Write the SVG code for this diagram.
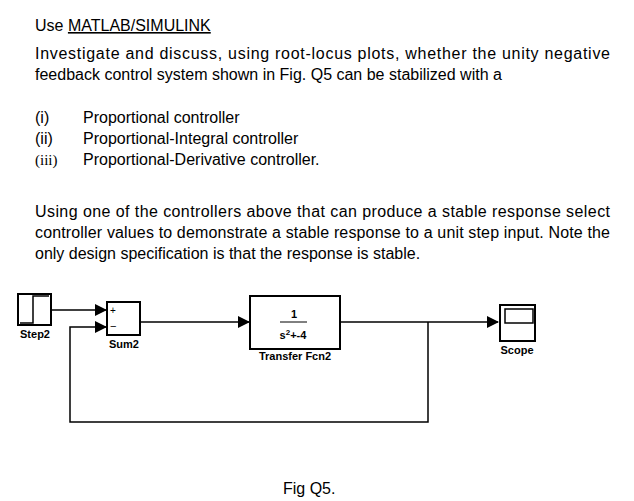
<svg xmlns="http://www.w3.org/2000/svg" width="634" height="501" viewBox="0 0 634 501">
<style>
text{font-family:"Liberation Sans",Arial,sans-serif;fill:#000}
.t{font-size:16px}
.s{font-size:11px;font-weight:bold}
.b{fill:#fff;stroke:#000;stroke-width:2}
.c{fill:none;stroke:#000;stroke-width:1.5}
</style>
<defs><marker id="a" markerWidth="12" markerHeight="12" refX="11" refY="6" orient="auto" markerUnits="userSpaceOnUse"><path d="M0,0 L12,6 L0,12 z" fill="#000"/></marker></defs>
<rect width="634" height="501" fill="#fff"/>
<text class="t" x="35" y="31">Use <tspan text-decoration="underline">MATLAB/SIMULINK</tspan></text>
<text class="t" x="35" y="59" textLength="575" lengthAdjust="spacing">Investigate and discuss, using root-locus plots, whether the unity negative</text>
<text class="t" x="35" y="80">feedback control system shown in Fig. Q5 can be stabilized with a</text>
<text class="t" x="35" y="123">(i)</text><text class="t" x="83" y="123">Proportional controller</text>
<text class="t" x="35" y="144">(ii)</text><text class="t" x="83" y="144">Proportional-Integral controller</text>
<text x="35" y="165" style="font-family:'Liberation Serif',serif;font-size:15px">(iii)</text><text class="t" x="83" y="165">Proportional-Derivative controller.</text>
<text class="t" x="35" y="217" textLength="575" lengthAdjust="spacing">Using one of the controllers above that can produce a stable response select</text>
<text class="t" x="35" y="238" textLength="575" lengthAdjust="spacing">controller values to demonstrate a stable response to a unit step input. Note the</text>
<text class="t" x="35" y="259">only design specification is that the response is stable.</text>
<g id="connectors" class="c">
<path d="M52,310 H106" marker-end="url(#a)"/>
<path d="M141,322 H249" marker-end="url(#a)"/>
<path d="M341,322 H498" marker-end="url(#a)"/>
<path d="M428,322 V422 H70 V327 H106" marker-end="url(#a)"/>
</g>
<g id="step2"><rect class="b" x="18" y="294" width="33" height="31"/><path d="M20,323 H33 V296 H49" class="c"/><text class="s" x="35" y="338" text-anchor="middle">Step2</text></g>
<g id="sum2"><rect class="b" x="107" y="302" width="33" height="33"/><text x="110" y="314" style="font-size:10px">+</text><text x="110" y="330" style="font-size:11px">−</text><text class="s" x="124" y="348" text-anchor="middle">Sum2</text></g>
<g id="tf2"><rect class="b" x="250" y="296" width="90" height="53"/><text class="s" x="294" y="318" text-anchor="middle">1</text><path d="M280,322 H307" stroke="#000"/><text class="s" x="293" y="339" text-anchor="middle">s<tspan dy="-4" font-size="8">2</tspan><tspan dy="4">+-4</tspan></text><text class="s" x="295" y="360" text-anchor="middle">Transfer Fcn2</text></g>
<g id="scope"><rect class="b" x="500" y="305" width="35" height="36"/><rect x="505" y="309" width="28" height="14" fill="none" stroke="#000" stroke-width="1.5"/><text class="s" x="517" y="354" text-anchor="middle">Scope</text></g>
<text class="t" x="283" y="494">Fig Q5.</text>
</svg>
